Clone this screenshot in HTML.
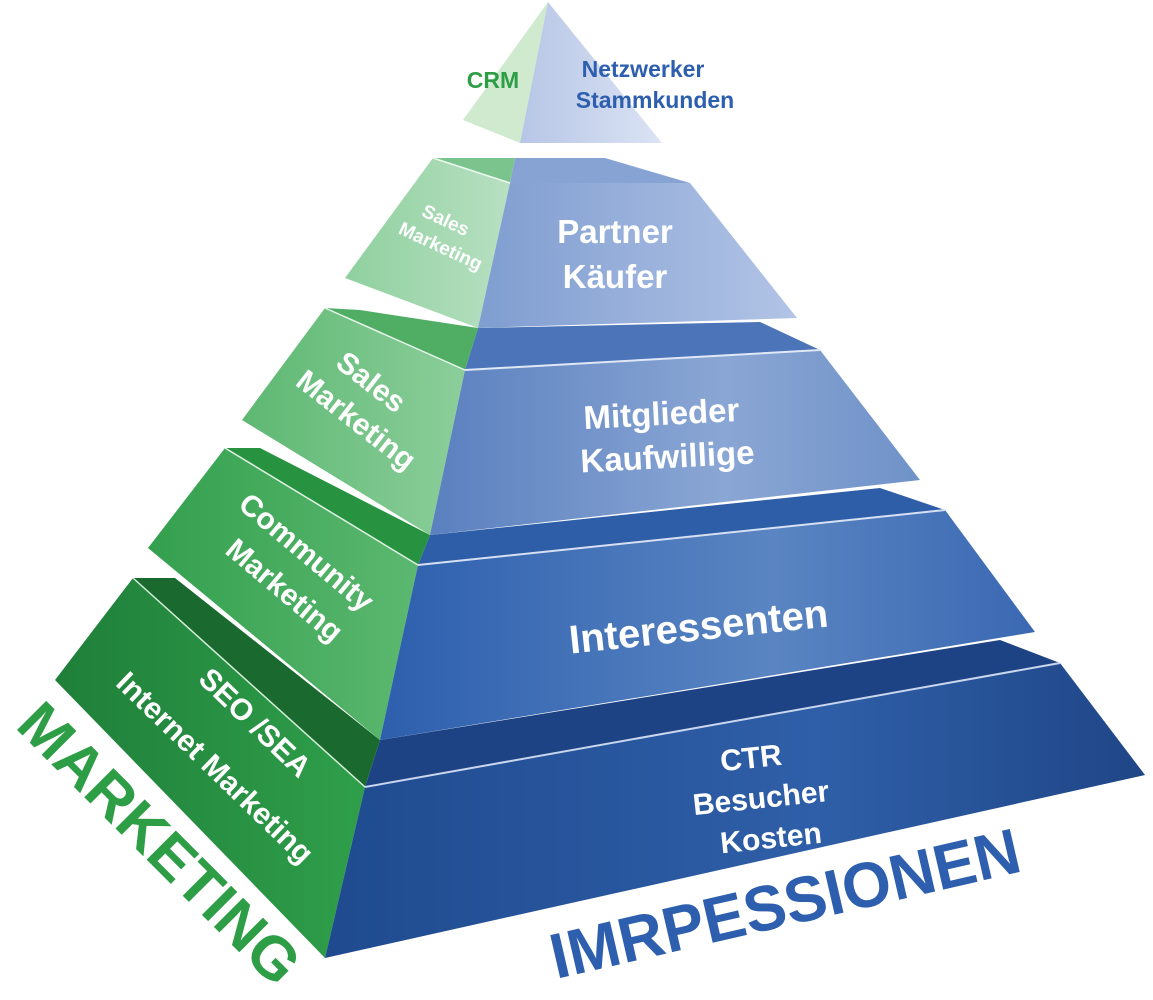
<!DOCTYPE html>
<html><head><meta charset="utf-8"><style>
html,body{margin:0;padding:0;background:#fff;}
svg{display:block;font-family:"Liberation Sans",sans-serif;font-weight:bold;}
</style></head><body>
<svg width="1153" height="1000" viewBox="0 0 1153 1000" xmlns="http://www.w3.org/2000/svg">
<defs>
<linearGradient id="b1" x1="0" x2="1"><stop offset="0" stop-color="#1f4a8f"/><stop offset="0.6" stop-color="#2f5fa8"/><stop offset="1" stop-color="#1f4687"/></linearGradient>
<linearGradient id="b2" x1="0" x2="1"><stop offset="0" stop-color="#2d5fae"/><stop offset="0.6" stop-color="#5a85c2"/><stop offset="1" stop-color="#3a68b2"/></linearGradient>
<linearGradient id="b3" x1="0" x2="1"><stop offset="0" stop-color="#5a80bf"/><stop offset="0.6" stop-color="#8aa6d4"/><stop offset="1" stop-color="#6f92c8"/></linearGradient>
<linearGradient id="b4" x1="0" x2="1"><stop offset="0" stop-color="#7f9dd0"/><stop offset="1" stop-color="#b2c4e6"/></linearGradient>
<linearGradient id="b5" x1="0" x2="1"><stop offset="0" stop-color="#b7c6e6"/><stop offset="1" stop-color="#dbe3f4"/></linearGradient>
<linearGradient id="g1" x1="0" x2="1"><stop offset="0" stop-color="#1f7f3a"/><stop offset="1" stop-color="#2f9f4a"/></linearGradient>
<linearGradient id="g2" x1="0" x2="1"><stop offset="0" stop-color="#33a04e"/><stop offset="1" stop-color="#5cb870"/></linearGradient>
<linearGradient id="g3" x1="0" x2="1"><stop offset="0" stop-color="#5db872"/><stop offset="1" stop-color="#8cce9b"/></linearGradient>
<linearGradient id="g4" x1="0" x2="1"><stop offset="0" stop-color="#8fd09e"/><stop offset="1" stop-color="#b8e0c2"/></linearGradient>
</defs>

<polygon points="380,740 1000,640 1060,663 365,787" fill="#1e4384"/>
<polygon points="133,578 365,787 325,958 55,680" fill="url(#g1)"/>
<polygon points="133,578 175,578 380,740 365,787" fill="#1a6a30"/>
<polygon points="365,787 1060,663 1145,775 325,958" fill="url(#b1)"/>
<line x1="365" y1="787" x2="1060" y2="663" stroke="#c9d6ee" stroke-width="2"/>
<line x1="133" y1="578" x2="365" y2="787" stroke="#d6efd9" stroke-width="1.5"/>

<polygon points="430,535 880,488 945,510 418,565" fill="#2f5ea8"/>
<polygon points="225,448 418,565 380,740 148,548" fill="url(#g2)"/>
<polygon points="225,448 260,448 430,535 418,565" fill="#27923f"/>
<polygon points="418,565 945,510 1035,632 380,740" fill="url(#b2)"/>
<line x1="418" y1="565" x2="945" y2="510" stroke="#d6e0f2" stroke-width="2"/>
<line x1="225" y1="448" x2="418" y2="565" stroke="#e0f2e4" stroke-width="1.5"/>

<polygon points="478,328 760,322 820,350 465,370" fill="#4c74b8"/>
<polygon points="325,308 465,370 430,535 242,420" fill="url(#g3)"/>
<polygon points="325,308 360,310 478,328 465,370" fill="#4fae64"/>
<polygon points="465,370 820,350 920,480 430,535" fill="url(#b3)"/>
<line x1="465" y1="370" x2="820" y2="350" stroke="#e0e8f6" stroke-width="2"/>
<line x1="325" y1="308" x2="465" y2="370" stroke="#e6f5ea" stroke-width="1.5"/>

<polygon points="515,158 605,158 690,183 510,183" fill="#87a3d4"/>
<polygon points="433,158 510,183 478,328 345,278" fill="url(#g4)"/>
<polygon points="433,158 515,158 510,183" fill="#7cc48e"/>
<polygon points="510,183 690,183 797,318 478,328" fill="url(#b4)"/>
<line x1="433" y1="158" x2="510" y2="183" stroke="#eef8f0" stroke-width="1.5"/>

<polygon points="548,2 520,143 463,120" fill="#cfeacf"/>
<polygon points="548,2 662,143 520,143" fill="url(#b5)"/>

<g fill="#fff" text-anchor="middle">
<text x="615" y="243" font-size="33">Partner</text>
<text x="615" y="288" font-size="33">Käufer</text>
<text x="662" y="425" font-size="33" transform="rotate(-3 662 425)">Mitglieder</text>
<text x="668" y="468" font-size="33" transform="rotate(-3 668 468)">Kaufwillige</text>
<text x="700" y="640" font-size="40" transform="rotate(-6 700 640)">Interessenten</text>
<text x="752" y="768" font-size="30" transform="rotate(-6 752 768)">CTR</text>
<text x="762" y="808" font-size="30" transform="rotate(-6 762 808)">Besucher</text>
<text x="772" y="848" font-size="30" transform="rotate(-6 772 848)">Kosten</text>

<text x="443" y="226" font-size="19" transform="rotate(25 443 226)">Sales</text>
<text x="438" y="252" font-size="19" transform="rotate(25 438 252)">Marketing</text>
<text x="365" y="390" font-size="30" transform="rotate(38 365 390)">Sales</text>
<text x="350" y="428" font-size="30" transform="rotate(38 350 428)">Marketing</text>
<text x="300" y="560" font-size="30" transform="rotate(40 300 560)">Community</text>
<text x="278" y="598" font-size="30" transform="rotate(40 278 598)">Marketing</text>
<text x="248" y="730" font-size="30" transform="rotate(44 248 730)">SEO /SEA</text>
<text x="208" y="775" font-size="30" transform="rotate(44 208 775)">Internet Marketing</text>
</g>
<text x="493" y="88" font-size="23" fill="#2e9e46" text-anchor="middle">CRM</text>
<text x="643" y="77" font-size="23" fill="#2e5fae" text-anchor="middle">Netzwerker</text>
<text x="655" y="108" font-size="23" fill="#2e5fae" text-anchor="middle">Stammkunden</text>
<text x="145" y="858" font-size="60" fill="#2e9e46" text-anchor="middle" textLength="370" lengthAdjust="spacingAndGlyphs" transform="rotate(45 145 858)">MARKETING</text>
<text x="790" y="925" font-size="64" fill="#2e5fae" text-anchor="middle" textLength="480" lengthAdjust="spacingAndGlyphs" transform="rotate(-13 790 925)">IMRPESSIONEN</text>
</svg>
</body></html>
